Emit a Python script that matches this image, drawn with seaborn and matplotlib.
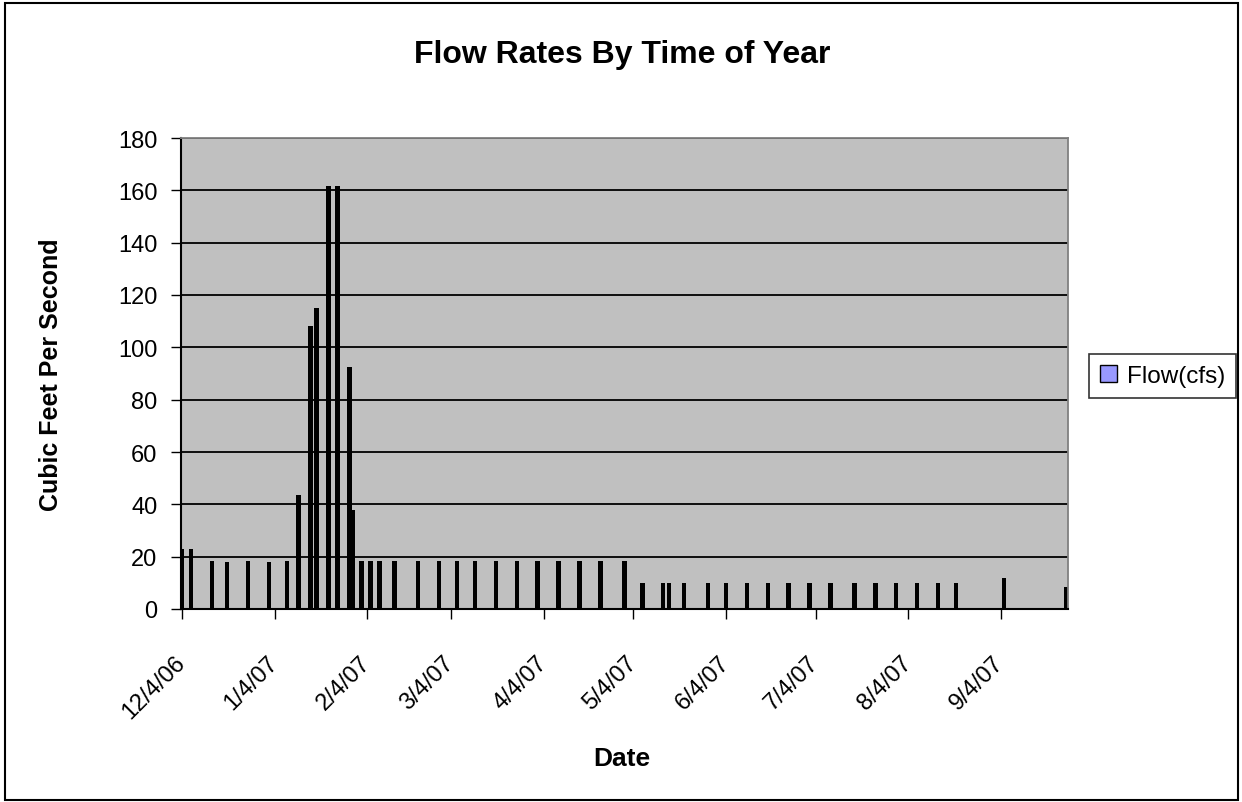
import matplotlib
matplotlib.use("Agg")
import matplotlib.pyplot as plt
from matplotlib.patches import Patch, Rectangle
from matplotlib.transforms import ScaledTranslation
import numpy as np
import pandas as pd
import seaborn as sns

# Sampling dates and measured flow (cubic feet per second)
sample_dates = [
    "2006-12-04", "2006-12-07", "2006-12-14", "2006-12-19", "2006-12-26",
    "2007-01-02", "2007-01-08", "2007-01-12", "2007-01-16", "2007-01-18",
    "2007-01-22", "2007-01-25", "2007-01-29", "2007-01-30", "2007-02-02",
    "2007-02-05", "2007-02-08", "2007-02-13", "2007-02-21", "2007-02-28",
    "2007-03-06", "2007-03-12", "2007-03-19", "2007-03-26", "2007-04-02",
    "2007-04-09", "2007-04-16", "2007-04-23", "2007-05-01", "2007-05-07",
    "2007-05-14", "2007-05-16", "2007-05-21", "2007-05-29", "2007-06-04",
    "2007-06-11", "2007-06-18", "2007-06-25", "2007-07-02", "2007-07-09",
    "2007-07-17", "2007-07-24", "2007-07-31", "2007-08-07", "2007-08-14",
    "2007-08-20", "2007-09-05", "2007-09-26",
]
flow_cfs = [
    23, 23, 18.5, 18, 18.5,
    18, 18.5, 43.5, 108, 115,
    161.5, 161.5, 92.5, 38, 18.5,
    18.5, 18.5, 18.5, 18.5, 18.5,
    18.5, 18.5, 18.5, 18.5, 18.5,
    18.5, 18.5, 18.5, 18.5, 10,
    10, 10, 10, 10, 10,
    10, 10, 10, 10, 10,
    10, 10, 10, 10, 10,
    10, 12, 8.5,
]
tick_dates = [
    "2006-12-04", "2007-01-04", "2007-02-04", "2007-03-04", "2007-04-04",
    "2007-05-04", "2007-06-04", "2007-07-04", "2007-08-04", "2007-09-04",
]
y_ticks = [0, 20, 40, 60, 80, 100, 120, 140, 160, 180]
axis_end = "2007-09-26"

start = pd.Timestamp(sample_dates[0])
dates = pd.to_datetime(sample_dates)
df = pd.DataFrame({
    "day": (dates - start).days.astype(float),
    "flow": flow_cfs,
})
ticks = pd.to_datetime(tick_dates)
tick_pos = (ticks - start).days.astype(float)
tick_labels = [f"{d.month}/{d.day}/{d:%y}" for d in ticks]

sns.set_style("white")
plt.rcParams["font.family"] = ["Liberation Sans", "DejaVu Sans"]
plt.rcParams["text.color"] = "black"
plt.rcParams["axes.labelcolor"] = "black"
plt.rcParams["xtick.color"] = "black"
plt.rcParams["ytick.color"] = "black"

W, H = 1242, 803
fig = plt.figure(figsize=(W / 100, H / 100), dpi=100)
fig.patch.set_facecolor("white")

left, right, top, bottom = 181, 1068, 139, 610
ax = fig.add_axes([left / W, 1 - bottom / H, (right - left) / W, (bottom - top) / H])
ax.set_facecolor("#C0C0C0")

sns.barplot(data=df, x="day", y="flow", native_scale=True, width=1.5,
            color="black", saturation=1, errorbar=None, ax=ax,
            edgecolor="black", linewidth=0)

ax.set_xlim(-0.4, (pd.Timestamp(axis_end) - start).days + 0.5)
ax.set_ylim(0, 180)
ax.set_yticks(y_ticks)
ax.set_yticklabels([str(v) for v in y_ticks])
ax.set_xticks(tick_pos)
ax.set_xticklabels(tick_labels, rotation=45, ha="right", va="top",
                   rotation_mode="anchor")
ax.set_xlabel("")
ax.set_ylabel("")

ax.yaxis.grid(True, color="black", linewidth=1.3)
ax.xaxis.grid(False)
ax.set_axisbelow(True)

ax.tick_params(axis="both", which="major", direction="out", length=7,
               width=1, color="black", labelsize=17, labelcolor="black",
               bottom=True, left=True)
ax.tick_params(axis="y", pad=10)
ax.tick_params(axis="x", pad=16)

# nudge the slanted date labels left and down
shift = ScaledTranslation(-8 / 100, -10 / 100, fig.dpi_scale_trans)
for lab in ax.get_xticklabels():
    lab.set_transform(lab.get_transform() + shift)

for side in ["left", "bottom"]:
    ax.spines[side].set_color("black")
    ax.spines[side].set_linewidth(1.5)
for side in ["top", "right"]:
    ax.spines[side].set_color("#808080")
    ax.spines[side].set_linewidth(1.3)

# Titles
fig.text(622 / W, 1 - 63 / H, "Flow Rates By Time of Year", ha="center",
         va="baseline", fontsize=23, fontweight="bold")
fig.text(622 / W, 1 - 766 / H, "Date", ha="center", va="baseline",
         fontsize=19, fontweight="bold")
fig.text(58 / W, 1 - 375 / H, "Cubic Feet Per Second", ha="center",
         va="baseline", rotation=90, rotation_mode="anchor",
         fontsize=18, fontweight="bold")

# Legend
handle = Patch(facecolor="#9999FF", edgecolor="black", linewidth=1)
leg = fig.legend([handle], ["Flow(cfs)"], loc="center left",
                 bbox_to_anchor=(1089 / W, 1 - 377 / H), fontsize=17.5,
                 frameon=True, fancybox=False, shadow=False,
                 handlelength=0.7, handleheight=0.7, handletextpad=0.4,
                 borderpad=0.45, borderaxespad=0)
leg.get_frame().set_edgecolor("black")
leg.get_frame().set_linewidth(1.2)

# Chart border
fig.add_artist(Rectangle((5 / W, 1 - 801 / H), (1238 - 5) / W, (801 - 4) / H,
                         transform=fig.transFigure, fill=False,
                         edgecolor="black", linewidth=1.5))

fig.savefig("out.png", dpi=100, facecolor="white")
